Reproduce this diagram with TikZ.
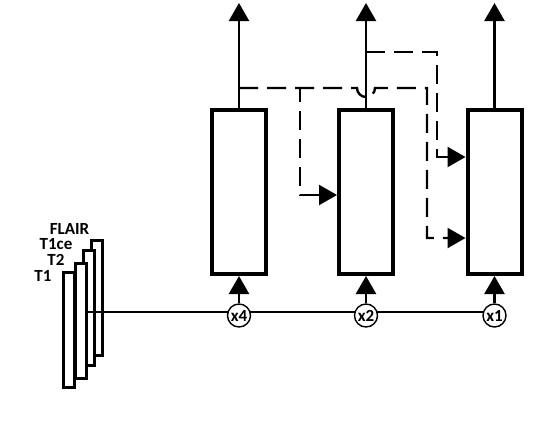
\documentclass[tikz,border=0pt]{standalone}
\usepackage{fontspec}
\setmainfont{Carlito}
\usetikzlibrary{positioning,arrows.meta,calc}
\tikzset{
  blk/.style ={draw, line width=4pt, minimum width=54pt, minimum height=164pt, inner sep=0pt},
  slc/.style ={draw, fill=white, line width=3pt, minimum width=11pt, minimum height=115pt, inner sep=0pt},
  lbl/.style ={font=\bfseries\fontsize{17}{17}\selectfont, inner sep=0pt},
  mul/.style ={circle, draw, fill=white, line width=1.4pt, minimum size=23pt,
               inner sep=0pt, font=\bfseries\fontsize{17}{17}\selectfont},
  fl/.style  ={-{Triangle[length=18pt,width=20pt]}, line width=2.4pt},
  skp/.style ={fl, dash pattern=on 19pt off 9pt}
}

\begin{document}
\begin{tikzpicture}[x=1pt,y=-1pt]
  \useasboundingbox (0,0) rectangle (546,426);

  % input slices, back to front
  \node[slc](sFL)  at (97,297.5){};
  \node[slc](sT1ce)at (88.5,308){};
  \node[slc](sT2)  at (80.5,321){};
  \node[slc](sT1)  at (68.5,329.5){};
  \node[lbl](lFL)  at (69.5,228.5){FLAIR};
  \node[lbl](lT1ce)at (56,244){T1ce};
  \node[lbl](lT2)  at (56,260){T2};
  \node[lbl](lT1)  at (43,275.5){T1};

  % blocks
  \node[blk](blk4) at (239,192){};
  \node[blk](blk2) at (366,192){};
  \node[blk](blk1) at (494.5,192){};

  % shared input line
  \coordinate (bus) at (88,312);
  \coordinate (busend) at (494.5,312);
  \draw[line width=2.2pt](bus)--(busend);

  \node[mul](m4) at (239,315.5){x4};
  \node[mul](m2) at (366,315.5){x2};
  \node[mul](m1) at (494.5,315.5){x1};

  \draw[fl](m4)--(blk4);\draw[fl](m2)--(blk2);\draw[fl](m1)--(blk1);

  % outputs
  \coordinate (o4) at (239,3);
  \coordinate (o2) at (366,3);
  \coordinate (o1) at (494.5,3);
  \draw[fl](blk4)--(o4);\draw[fl](blk2)--(o2);\draw[fl](blk1)--(o1);

  % skip paths
  \coordinate (j4) at (239,88);
  \coordinate (j2) at (366,52);
  \coordinate (s2) at (300,195);
  \coordinate (s1a) at (437,157);
  \coordinate (s1b) at (427,238);
  \draw[skp](j4) -| (s2) -- (s2 -| blk2.west);
  \draw[skp](j4) -- ($(j2 |- j4)+(-9,0)$) arc[start angle=180,end angle=0,radius=9]
        -| (s1b) -- (s1b -| blk1.west);
  \draw[skp](j2) -| (s1a) -- (s1a -| blk1.west);
\end{tikzpicture}
\end{document}
